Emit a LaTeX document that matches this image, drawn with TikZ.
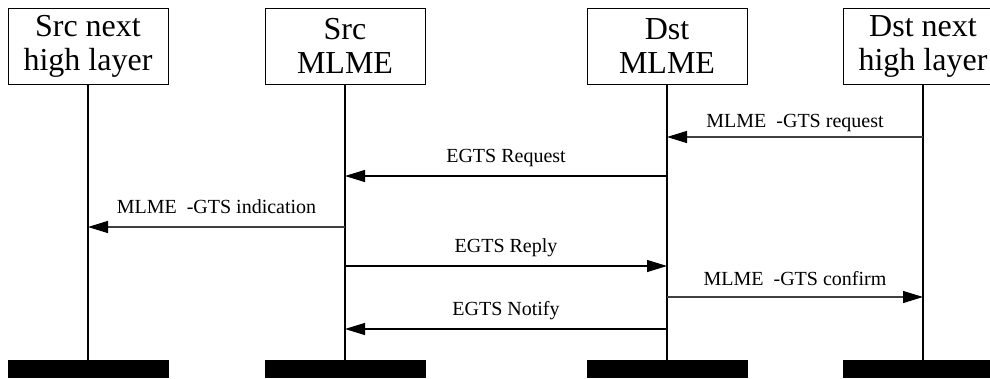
\documentclass[tikz,border=0pt]{standalone}
\usepackage{fontspec}
\setmainfont{Liberation Serif}
\usetikzlibrary{arrows.meta}

\begin{document}
\begin{tikzpicture}[x=1pt,y=-1pt,
    layer/.style={draw, line width=1pt, minimum width=160pt, minimum height=76pt, align=center, inner sep=0pt, font=\fontsize{32}{34}\selectfont},
    base/.style={fill=black, minimum width=161pt, minimum height=18pt, inner sep=0pt},
    life/.style={line width=2pt},
    msg/.style={-{Triangle[length=20pt,width=12pt,color=black]}, line width=1.2pt},
    prim/.style={msg, draw=black!75},
    lbl/.style={above=#1, inner sep=0pt, text depth=0pt, font=\fontsize{20}{24}\selectfont},
    lbl/.default=12.5pt]
                \useasboundingbox (0,0) rectangle (990,378);
                \clip (0,0) rectangle (990,378);
                % entities
                \node at (88,46) [layer] (srchl) {Src next\\high layer};
                \node at (345,46) [layer] (srcml) {Src\\MLME};
                \node at (667,46) [layer] (dstml) {Dst\\MLME};
                \node at (923,46) [layer] (dsthl) {Dst next\\high layer};
                \node at (88,369) [base] (srchlend) {};
                \node at (345,369) [base] (srcmlend) {};
                \node at (667,369) [base] (dstmlend) {};
                \node at (923,369) [base] (dsthlend) {};
                \draw[life] (srchl) -- (srchlend);
                \draw[life] (srcml) -- (srcmlend);
                \draw[life] (dstml) -- (dstmlend);
                \draw[life] (dsthl) -- (dsthlend);
                % messages
                \draw[prim] (dsthl |- 0,137) -- (dstml |- 0,137) node[midway, lbl=9pt] {MLME\ \ -GTS request};
                \draw[msg] (dstml |- 0,176) -- (srcml |- 0,176) node[midway, lbl] {EGTS Request};
                \draw[prim] (srcml |- 0,227) -- (srchl |- 0,227) node[midway, lbl] {MLME\ \ -GTS indication};
                \draw[msg] (srcml |- 0,266) -- (dstml |- 0,266) node[midway, lbl] {EGTS Reply};
                \draw[prim] (dstml |- 0,297) -- (dsthl |- 0,297) node[midway, lbl=11pt] {MLME\ \ -GTS confirm};
                \draw[msg] (dstml |- 0,329) -- (srcml |- 0,329) node[midway, lbl] {EGTS Notify};
            \end{tikzpicture}
\end{document}
